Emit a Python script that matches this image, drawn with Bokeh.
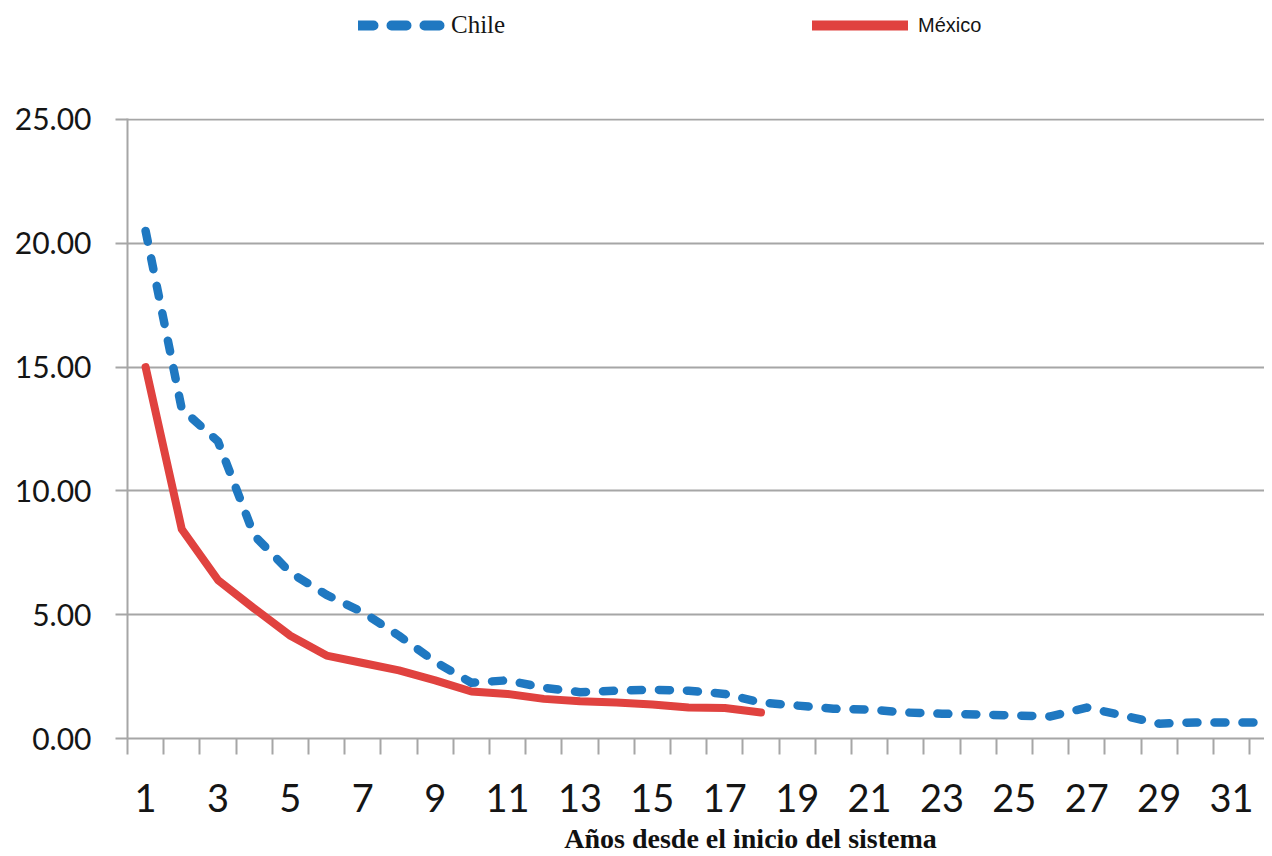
from bokeh.plotting import figure
from bokeh.layouts import column
from bokeh.models import FixedTicker, Legend, LegendItem, Label, Range1d
from bokeh.embed import file_html
from bokeh.resources import INLINE

# ---- data ----
years = list(range(1, 33))
chile = [20.5, 13.3, 12.0, 8.2, 6.7, 5.8, 5.1, 4.15, 3.1, 2.25, 2.35, 2.05,
         1.87, 1.93, 1.97, 1.93, 1.8, 1.45, 1.33, 1.2, 1.17, 1.05, 1.0, 0.97,
         0.93, 0.89, 1.25, 0.93, 0.6, 0.65, 0.65, 0.65]
mexico_years = years[:18]
mexico = [15.0, 8.45, 6.4, 5.25, 4.15, 3.35, 3.05, 2.75, 2.35, 1.9, 1.8, 1.6,
          1.5, 1.45, 1.37, 1.25, 1.23, 1.05]
x_label_years = list(range(1, 32, 2))
x_tick_labels = [str(v) for v in x_label_years]
y_ticks = [0, 5, 10, 15, 20, 25]
y_tick_labels = ["0.00", "5.00", "10.00", "15.00", "20.00", "25.00"]
series_names = ["Chile", "México"]
x_title = "Años desde el inicio del sistema"

BLUE = "#1f78c1"
RED = "#e0423f"
GREY = "#a6a6a6"
W = 1264
LEFT = 127
FRAME_W = W - LEFT


def blank(height):
    f = figure(width=W, height=height, x_range=Range1d(0, FRAME_W),
               y_range=Range1d(0, height), output_backend="svg",
               toolbar_location=None, x_axis_type=None, y_axis_type=None,
               min_border_left=LEFT, min_border_right=0,
               min_border_top=0, min_border_bottom=0)
    f.outline_line_color = None
    f.xgrid.visible = False
    f.ygrid.visible = False
    return f


# ---------- header with the legend ----------
header = blank(50)
# hidden proxies that only lend their style to the legend
leg_c = header.line(years, chile, line_color=BLUE, line_width=10,
                    line_dash="15 18", line_cap="round", visible=False)
leg_m = header.line(mexico_years, mexico, line_color=RED, line_width=10,
                    line_cap="round", visible=False)
common = dict(orientation="horizontal", glyph_height=24, padding=0, margin=0,
              spacing=0, border_line_color=None, background_fill_alpha=0,
              label_text_color="#151515")
legend_c = Legend(items=[LegendItem(label=series_names[0], renderers=[leg_c])],
                  location=(231, 11), glyph_width=87, label_standoff=6,
                  label_text_font="Liberation Serif", label_text_font_size="25px",
                  **common)
legend_m = Legend(items=[LegendItem(label=series_names[1], renderers=[leg_m])],
                  location=(685, 13), glyph_width=96, label_standoff=10,
                  label_text_font="Liberation Sans", label_text_font_size="20px",
                  **common)
header.add_layout(legend_c)
header.add_layout(legend_m)

# ---------- main chart ----------
p = figure(width=W, height=768,
           x_range=Range1d(0.5, 31.91), y_range=Range1d(0, 25.04),
           output_backend="svg", toolbar_location=None,
           min_border_left=LEFT, min_border_right=0,
           min_border_top=68, min_border_bottom=80)
p.outline_line_color = None

p.xgrid.visible = False
p.ygrid.ticker = FixedTicker(ticks=y_ticks)
p.ygrid.grid_line_color = GREY
p.ygrid.grid_line_width = 2

boundaries = [y - 0.5 for y in years] + [years[-1] + 0.5]
xa = p.xaxis[0]
xa.ticker = FixedTicker(ticks=x_label_years, minor_ticks=boundaries)
xa.major_label_overrides = {v: t for v, t in zip(x_label_years, x_tick_labels)}
xa.major_tick_line_color = None
xa.major_tick_out = 0
xa.major_tick_in = 0
xa.minor_tick_line_color = GREY
xa.minor_tick_line_width = 2
xa.minor_tick_out = 16
xa.minor_tick_in = 0
xa.axis_line_color = GREY
xa.axis_line_width = 2
xa.major_label_text_font = "Lato"
xa.major_label_text_font_size = "38px"
xa.major_label_text_color = "#151515"
xa.major_label_standoff = 29

ya = p.yaxis[0]
ya.ticker = FixedTicker(ticks=y_ticks)
ya.major_label_overrides = {v: t for v, t in zip(y_ticks, y_tick_labels)}
ya.major_tick_line_color = GREY
ya.major_tick_line_width = 2
ya.major_tick_out = 12
ya.major_tick_in = 0
ya.minor_tick_line_color = None
ya.axis_line_color = GREY
ya.axis_line_width = 2
ya.major_label_text_font = "Lato"
ya.major_label_text_font_size = "30px"
ya.major_label_text_color = "#151515"
ya.major_label_standoff = 24

p.line(mexico_years, mexico, line_color=RED, line_width=8,
       line_cap="round", line_join="round")
p.line(years, chile, line_color=BLUE, line_width=8.5, line_dash="11 17",
       line_cap="round", line_join="round")

# ---------- footer with the x axis title ----------
footer = blank(38)
footer.add_layout(Label(x=750 - LEFT, y=18, x_units="screen", y_units="screen",
                        text=x_title,
                        text_font="Liberation Serif", text_font_style="bold",
                        text_font_size="28px", text_align="center",
                        text_baseline="middle", text_color="#111111"))

layout = column(header, p, footer, spacing=0)
open("out.html", "w").write(file_html(layout, INLINE))
